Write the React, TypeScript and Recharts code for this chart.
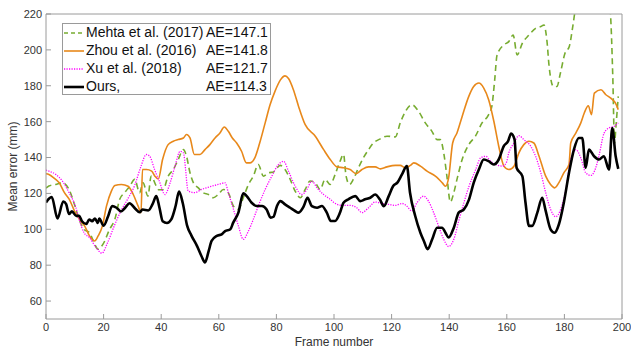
import React from 'react';
import { LineChart, Line, XAxis, YAxis, Legend } from 'recharts';

const FONT = '"Liberation Sans", Arial, Helvetica, sans-serif';

const seriesNames = ['Mehta et al. (2017)', 'Zhou et al. (2016)', 'Xu et al. (2018)', 'Ours,'];
const aeLabels = ['AE=147.1', 'AE=141.8', 'AE=121.7', 'AE=114.3'];
const xTicks = [0, 20, 40, 60, 80, 100, 120, 140, 160, 180, 200];
const yTicks = [60, 80, 100, 120, 140, 160, 180, 200, 220];

const mehtaFrames = [0, 1, 3.4, 5.7, 8, 9.7, 11.5, 13.2, 15.1, 16.9, 18.1, 19.8, 22.1, 23.9, 25.6, 27.3, 29.1, 30.8, 32.5, 33.7, 35.4, 36.5, 38.3, 39.2, 40.7, 42.4, 44.2, 45.9, 47.7, 48.8, 50, 51.2, 52.9, 54.6, 56.4, 58.1, 59.8, 61.6, 63.3, 65.1, 66.8, 68.5, 70.3, 72, 73.7, 75.5, 77.3, 79, 81.3, 83, 84.8, 86.5, 88.3, 90, 91.7, 93.5, 95.2, 96.9, 98.7, 100.4, 102.1, 103.3, 104.2, 105.4, 106.7, 108.5, 110.2, 112, 113.7, 116.1, 118.4, 121.3, 123, 124.8, 127.1, 129.4, 131.7, 134, 135.8, 136.9, 138.1, 139.2, 140.4, 141.6, 142.7, 144.5, 146.8, 149.1, 151.4, 153.7, 154.8, 155.8, 156.6, 159, 160.7, 162.2, 163.6, 165.4, 167.7, 170, 171.8, 172.9, 173.9, 174.7, 176.2, 177.4, 178.6, 180.2, 181.7, 182.9, 184, 186, 190, 194, 196, 196.8, 197.4, 197.9, 198.7];
const mehtaValues = [123, 124.1, 125, 125.9, 122.2, 114.8, 105.6, 100, 98.1, 91.7, 88.9, 91.7, 100, 105.6, 116.7, 120.4, 124.1, 127.8, 120.4, 125.9, 118.5, 129.6, 124.1, 122, 122.2, 129.6, 133.3, 138.9, 144.4, 140.7, 131.5, 125.9, 123.1, 120.4, 119.4, 117.6, 119.4, 122.2, 120.4, 112.9, 111.1, 117.6, 125, 129.6, 136.1, 129.6, 131.5, 132, 135.6, 133.3, 127.8, 121.3, 117.6, 122.2, 126.9, 125.9, 122.2, 127.8, 125, 130.6, 137.9, 141.7, 129.6, 125, 127.8, 134.3, 139.8, 144.4, 148.1, 150.4, 151.9, 151.5, 159.3, 165.7, 169.4, 165.7, 159.3, 154.6, 150, 150, 142.6, 129.6, 115.2, 120.4, 127.8, 138.9, 147.2, 151.9, 159.3, 163.9, 168.5, 183.3, 197, 202.8, 204.6, 208.3, 197.2, 203.7, 208.3, 212, 213, 213.9, 205.6, 190.7, 179.6, 179.6, 187, 198.1, 201.9, 213, 225, 240, 250, 245, 220, 185.2, 148.1, 157.4, 174.1];

const zhouFrames = [0, 1, 2.7, 4.6, 6.4, 8.1, 9.9, 11.6, 13.4, 15.1, 16.9, 18.1, 19.6, 21, 22.7, 23.9, 26.2, 28.5, 30.3, 32, 33, 33.5, 34.9, 36.7, 37.8, 39, 40.5, 42.4, 44.2, 45.9, 47.7, 48.8, 50, 51.5, 53.5, 55.2, 56.9, 58.7, 60.4, 61.9, 63.3, 64.7, 66.2, 67.9, 69.6, 70.8, 72.5, 74.2, 76.1, 77.8, 79.5, 81.4, 83, 84.2, 85.9, 87.7, 90, 93.5, 96.4, 98.7, 101, 103.3, 105.6, 107.7, 109.7, 112, 114.3, 116.1, 118.4, 121.3, 123, 124.8, 126.5, 127.7, 130, 132.3, 135.2, 137.6, 138.7, 139.8, 141.2, 142.7, 144.5, 146.8, 148.5, 150.3, 152, 153.7, 155.5, 157.2, 159, 160.7, 162.5, 164.2, 165.9, 167.7, 169.4, 171.2, 173.5, 175.2, 176.6, 178.1, 179.8, 181.6, 182.2, 184, 185.7, 186.9, 188.3, 189.4, 190.4, 192.7, 194.4, 196.1, 197.7, 198.7];
const zhouValues = [131, 130.6, 128.7, 125.9, 120.4, 116.7, 110.2, 105.6, 101.9, 96.3, 93.5, 96.3, 101.9, 112.9, 121.3, 124.4, 125, 124, 119.4, 112.9, 109.3, 133.3, 133.3, 132.4, 129.6, 128, 139, 147.2, 149.1, 150, 150.9, 152.8, 150.9, 141.7, 141.7, 144.4, 147.2, 150.9, 153.7, 157, 154.6, 150.9, 148.1, 143.5, 137, 137, 139.8, 148.1, 159.3, 169.4, 176.9, 183.3, 185.5, 184, 177.8, 168.5, 158.3, 151.9, 144.4, 138.9, 134.8, 134.3, 133.3, 131, 133.3, 134.8, 134.8, 133.7, 134.8, 135.6, 135.6, 134.3, 135.6, 137, 135.2, 132.4, 129.6, 125.9, 124, 128.7, 148.1, 153.7, 162.9, 174.1, 179.6, 181.5, 178.7, 172.2, 160.2, 146.3, 135.2, 133.3, 135.2, 142.6, 147.2, 149.1, 148.1, 140.7, 129.6, 125, 123.1, 126, 131.5, 136.1, 148.1, 153.7, 159.3, 164.8, 168.9, 163.9, 175.9, 177.8, 175, 173.1, 170.4, 166.7];

const xuFrames = [0, 1, 3.4, 5.7, 8, 10.4, 11.5, 13.2, 15.1, 17.4, 19.4, 21.4, 23.7, 26, 28.3, 30.7, 33, 34.8, 36, 37.7, 39.3, 41.3, 43.1, 44.8, 46.6, 47.7, 49.4, 51.7, 54, 56.9, 59.8, 62.2, 63.3, 65.1, 66.8, 68.5, 70.3, 72, 73.7, 76.1, 78.4, 80.7, 82.5, 84.2, 86.5, 88.8, 90.6, 92.3, 94.1, 96.4, 98.7, 101, 103.3, 105.6, 107.9, 109.7, 112, 114.3, 116.6, 118.9, 121.3, 123.6, 125.3, 127, 128.8, 131.1, 132.8, 134.6, 136.3, 138.1, 139.8, 141.6, 143.3, 145.1, 146.9, 149.2, 150.9, 152.7, 154.4, 156.2, 158.5, 159.8, 160.7, 162.5, 164.2, 165.9, 168.3, 170, 171.8, 173.5, 175.2, 177, 178.7, 180.5, 182.2, 184, 185.7, 187.4, 189.2, 190.9, 192.1, 193.8, 195.5, 197.3, 198.7];
const xuValues = [133, 132.4, 130.6, 126.9, 120.4, 112, 105.6, 98.1, 95.4, 89.8, 86.7, 92.6, 101.9, 110.2, 116.7, 124.1, 135.2, 141.7, 140.7, 133.3, 127, 119.4, 125.9, 135.2, 143.5, 142.6, 121.3, 120.4, 122.2, 123.7, 125, 125.9, 120.4, 111.1, 101.9, 94.4, 99.1, 105.6, 112.9, 122.2, 129.6, 136.1, 137.9, 132.4, 124.1, 119.4, 122.2, 126.9, 123.1, 119.4, 116.7, 113.9, 113.3, 113.3, 112, 109.3, 112, 115.2, 114.4, 113.9, 113.3, 114.4, 112.9, 110.2, 114.8, 118.5, 115.7, 109.3, 101.9, 94.4, 90.4, 94.4, 104.6, 114.8, 124.1, 133.3, 139.8, 140.7, 137.9, 136.1, 135.2, 137, 142.6, 148.1, 152.2, 150, 146.3, 140.7, 131.5, 120.4, 111.1, 107, 111.1, 122.2, 138.9, 144.4, 139.8, 131.5, 130, 134.3, 141.7, 153.7, 156.5, 157.4, 159.3];

const oursFrames = [0, 1, 2, 4, 6, 7, 8, 9, 10.5, 11.5, 12.5, 14, 15, 16, 17, 18, 18.5, 20, 21.5, 23, 24.5, 26, 27.5, 29, 31, 32.5, 33.5, 35.5, 37, 38.3, 39.4, 40.5, 42, 43.5, 45, 46.2, 47.5, 49, 50.5, 52.5, 54, 55.2, 56.5, 57.5, 59.3, 61, 62.2, 64, 65, 66.8, 68.5, 69.7, 71.4, 73.2, 75, 76.6, 78, 79, 80.2, 81.4, 83, 84.8, 86.5, 87.7, 89.5, 90.8, 92.3, 94.1, 95.8, 97.5, 98.9, 100.4, 102.1, 103.3, 105, 107.4, 109.1, 110.8, 112.6, 114.3, 115.9, 117.3, 119, 120.5, 122, 123.6, 125.3, 126.4, 128.2, 130, 131.2, 132.5, 134.1, 135.8, 137.5, 138.7, 139.8, 141.6, 143.3, 145.1, 146.9, 148.5, 150.3, 152, 153.7, 155.5, 157.2, 159, 160.4, 161.5, 162.7, 163.4, 165.4, 166.5, 167.7, 168.8, 170.6, 172.3, 173.4, 175.2, 176.6, 178.1, 179.8, 181.6, 183.3, 185, 186.2, 187.4, 188.5, 190.3, 192, 193.7, 195.5, 196.6, 197.8, 198.7];
const oursValues = [115, 117, 118, 106, 115.5, 114, 108.5, 110, 107.5, 107.5, 104.5, 103, 105.5, 104.5, 106, 103.5, 106, 102, 107, 113, 112, 110, 112, 114.5, 111.5, 109.5, 111, 110.5, 114, 118.5, 112, 104.5, 103.5, 105.5, 113, 121, 114.5, 102, 96.5, 90.5, 85, 81.5, 88, 93.5, 96.3, 97.2, 99, 100, 103.7, 109.3, 120, 118.5, 114.8, 113, 113, 111, 106.5, 107, 113, 115.7, 113.9, 112, 110.2, 109.3, 112.9, 117.6, 112.9, 112, 113, 109.3, 104.6, 104.6, 109.3, 114.8, 116.7, 118.5, 115.7, 116.7, 117.6, 119.4, 116.7, 112.9, 118.5, 124, 126, 130.6, 135.2, 120.4, 107.4, 98.1, 93.5, 88.9, 94.4, 100.9, 100.9, 98.1, 95.4, 100.9, 109.3, 111.1, 116.7, 125.9, 133.3, 138.9, 138, 136.1, 138.9, 146.5, 149, 153.3, 150, 134.3, 129.6, 114.8, 101.9, 101.9, 109.3, 117.6, 111, 100, 98.1, 102.8, 114.8, 131.5, 144.4, 150.9, 150.9, 134.3, 144.4, 140.7, 138.9, 140.7, 133.3, 156.5, 140.7, 133.7];

const toPoints = (frames: number[], values: number[]) =>
  frames.map((f, i) => ({ frame: f, value: values[i] }));

const seriesData = [
  toPoints(mehtaFrames, mehtaValues),
  toPoints(zhouFrames, zhouValues),
  toPoints(xuFrames, xuValues),
  toPoints(oursFrames, oursValues),
];

const seriesStyles = [
  { stroke: '#77AC30', strokeWidth: 1.6, dash: '6 4', legendDash: '4 3' },
  { stroke: '#E8881A', strokeWidth: 1.6, dash: undefined, legendDash: undefined },
  { stroke: '#FF00FF', strokeWidth: 1.3, dash: '1.2 1.3', legendDash: '1.2 1.3' },
  { stroke: '#000000', strokeWidth: 2.6, dash: undefined, legendDash: undefined },
];

const AXIS = '#9a9a9a';
const TEXT = '#333333';

const LegendBox = () => (
  <div
    style={{
      boxSizing: 'border-box',
      width: 209,
      height: 72,
      border: `1px solid ${AXIS}`,
      background: '#fff',
      fontFamily: FONT,
      fontSize: 14,
      color: '#111',
      position: 'relative',
    }}
  >
    {seriesNames.map((n, i) => (
      <div
        key={n}
        style={{
          position: 'absolute',
          left: 0,
          top: 0.3 + i * 17.8,
          height: 17.8,
          width: '100%',
          lineHeight: '17.8px',
          whiteSpace: 'nowrap',
        }}
      >
        <svg width={22} height={18} style={{ position: 'absolute', left: 1, top: 0 }}>
          <line
            x1={0}
            x2={20}
            y1={9}
            y2={9}
            stroke={seriesStyles[i].stroke}
            strokeWidth={seriesStyles[i].strokeWidth}
            strokeDasharray={seriesStyles[i].legendDash}
          />
        </svg>
        <span style={{ position: 'absolute', left: 23 }}>{n}</span>
        <span style={{ position: 'absolute', left: 143 }}>{aeLabels[i]}</span>
      </div>
    ))}
  </div>
);

export default function App() {
  return (
    <div style={{ position: 'absolute', left: 0, top: 0, background: '#fff' }}>
      <LineChart width={631} height={349} margin={{ top: 13, right: 8, bottom: 0, left: 0 }}>
        <XAxis
          xAxisId="main"
          dataKey="frame"
          type="number"
          domain={[0, 200]}
          ticks={xTicks}
          allowDataOverflow
          height={30}
          tickSize={-5}
          tickMargin={9}
          stroke={AXIS}
          tick={{ fill: TEXT, fontSize: 11, fontFamily: FONT }}
          label={{ value: 'Frame number', position: 'insideBottom', offset: 3, fill: TEXT, fontSize: 12, fontFamily: FONT }}
        />
        <XAxis
          xAxisId="top"
          orientation="top"
          dataKey="frame"
          type="number"
          domain={[0, 200]}
          ticks={xTicks}
          allowDataOverflow
          height={1}
          tickSize={-5}
          tick={false}
          stroke={AXIS}
        />
        <YAxis
          yAxisId="main"
          type="number"
          domain={[50, 220]}
          ticks={yTicks}
          allowDataOverflow
          width={46}
          tickSize={-5}
          tickMargin={9}
          stroke={AXIS}
          tick={{ fill: TEXT, fontSize: 11, fontFamily: FONT }}
          label={{
            value: 'Mean error (mm)',
            angle: -90,
            position: 'insideLeft',
            offset: 13,
            fill: TEXT,
            fontSize: 12,
            fontFamily: FONT,
            style: { textAnchor: 'middle' },
          }}
        />
        <YAxis
          yAxisId="right"
          orientation="right"
          type="number"
          domain={[50, 220]}
          ticks={yTicks}
          allowDataOverflow
          width={1}
          tickSize={-5}
          tick={false}
          stroke={AXIS}
        />
        <Legend
          layout="vertical"
          align="center"
          verticalAlign="middle"
          wrapperStyle={{ left: 62, top: 23, width: 209, height: 72 }}
          content={() => <LegendBox />}
        />
        {seriesData.map((d, i) => (
          <Line
            key={seriesNames[i]}
            xAxisId="main"
            yAxisId="main"
            data={d}
            dataKey="value"
            name={seriesNames[i]}
            type="monotone"
            stroke={seriesStyles[i].stroke}
            strokeWidth={seriesStyles[i].strokeWidth}
            strokeDasharray={seriesStyles[i].dash}
            dot={false}
            activeDot={false}
            isAnimationActive={false}
          />
        ))}
      </LineChart>
    </div>
  );
}
